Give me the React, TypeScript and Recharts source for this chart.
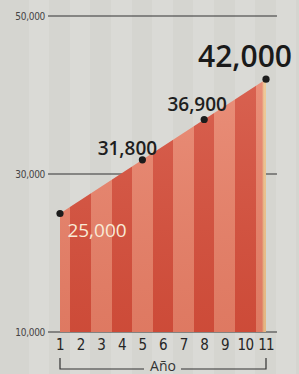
import React from 'react';
import { ComposedChart, Area, XAxis, YAxis, CartesianGrid, LabelList } from 'recharts';

// ---- data ----
const years = [1, 2, 3, 4, 5, 6, 7, 8, 9, 10, 11];
const pointYears = [1, 5, 8, 11];
const pointValues = [25000, 31800, 36900, 42000];
const pointLabels = ['25,000', '31,800', '36,900', '42,000'];
const yTicks = [10000, 30000, 50000];
const yTickLabels = ['10,000', '30,000', '50,000'];
const axisTitle = 'Año';

const data = pointYears.map((yr, i) => ({ year: yr, value: pointValues[i], label: pointLabels[i] }));

// ---- styles ----
const W = 299;
const H = 374;
const PAD_L = 12;
const PAD_R = 11;
const LIGHT = '#e7826a';
const DARK = '#d4503d';
const EDGE = '#ecc58e';
const labelStyles = [
  { dx: 37, dy: 23, size: 19, fill: '#f8ead6', weight: 500 },
  { dx: -15, dy: -5, size: 19, fill: '#1e1e1e', weight: 600 },
  { dx: -7, dy: -8, size: 19, fill: '#1e1e1e', weight: 600 },
  { dx: -21, dy: -12, size: 30, fill: '#1a1a1a', weight: 600 },
];

const n = years.length - 1;
const stops: { off: number; color: string }[] = [];
years.forEach((_, i) => {
  const a = Math.max(0, (i - 0.5) / n);
  const b = Math.min(1, (i + 0.5) / n);
  const c = i % 2 === 0 ? LIGHT : DARK;
  stops.push({ off: a, color: c });
  if (i === n) {
    stops.push({ off: 0.98, color: c });
    stops.push({ off: 0.99, color: EDGE });
    stops.push({ off: 1, color: EDGE });
  } else {
    stops.push({ off: b, color: c });
  }
});

const DataLabel = (props: any) => {
  const { x, y, index, value } = props;
  const s = labelStyles[index];
  return (
    <text
      x={x + s.dx}
      y={y + s.dy}
      textAnchor="middle"
      fontFamily="'Open Sans', sans-serif"
      fontSize={s.size}
      fontWeight={s.weight}
      fill={s.fill}
    >
      {value}
    </text>
  );
};

const BracketLabel = (props: any) => {
  const vb = props.viewBox || {};
  const x1 = vb.x + PAD_L;
  const x2 = vb.x + vb.width - PAD_R;
  const mid = (x1 + x2) / 2;
  const yTop = vb.y + 26;
  const yBot = vb.y + 37;
  return (
    <g>
      <path
        d={`M${x1},${yTop} L${x1},${yBot} L${mid - 19},${yBot} M${mid + 18},${yBot} L${x2},${yBot} L${x2},${yTop}`}
        stroke="#333"
        strokeWidth={1.2}
        fill="none"
      />
      <text
        x={mid}
        y={vb.y + 39}
        textAnchor="middle"
        fontFamily="'Open Sans', sans-serif"
        fontSize={14}
        fill="#333"
      >
        {axisTitle}
      </text>
    </g>
  );
};

export default function App() {
  return (
    <div
      style={{
        position: 'absolute',
        left: 0,
        top: 0,
        width: W,
        height: H,
        overflow: 'hidden',
        background:
          'repeating-linear-gradient(90deg, #d5d5d0 0px, #d5d5d0 20.6px, #dadad6 20.6px, #dadad6 41.2px)',
        backgroundPosition: '8px 0',
      }}
    >
      <ComposedChart
        width={W}
        height={H}
        data={data}
        margin={{ top: 16, right: 22, bottom: 0, left: 0 }}
      >
        <defs>
          <linearGradient id="stripes" x1="0" y1="0" x2="1" y2="0">
            {stops.map((s, i) => (
              <stop key={i} offset={s.off} stopColor={s.color} />
            ))}
          </linearGradient>
          <linearGradient id="shade" x1="0" y1="0" x2="0" y2="1">
            <stop offset="0" stopColor="#fff" stopOpacity={0.1} />
            <stop offset="1" stopColor="#7a1000" stopOpacity={0.08} />
          </linearGradient>
        </defs>
        <CartesianGrid vertical={false} stroke="#333" strokeWidth={1.2} />
        <XAxis
          type="number"
          dataKey="year"
          domain={[1, 11]}
          ticks={years}
          interval={0}
          padding={{ left: PAD_L, right: PAD_R }}
          axisLine={false}
          tickLine={false}
          tickSize={0}
          tickMargin={7}
          height={42}
          tick={{ fontFamily: "'DejaVu Sans Condensed', sans-serif", fontSize: 15, fill: '#262626', letterSpacing: -0.8 }}
          label={<BracketLabel />}
        />
        <YAxis
          type="number"
          domain={[10000, 50000]}
          ticks={yTicks}
          tickFormatter={(v: number) => yTickLabels[yTicks.indexOf(v)]}
          axisLine={false}
          tickLine={false}
          tickSize={0}
          tickMargin={3}
          width={48}
          tick={{ fontFamily: "'DejaVu Sans Condensed', sans-serif", fontSize: 10, fill: '#444', letterSpacing: -0.3 }}
        />
        <Area
          type="linear"
          dataKey="value"
          stroke="none"
          fill="url(#stripes)"
          fillOpacity={1}
          isAnimationActive={false}
          dot={false}
          activeDot={false}
        />
        <Area
          type="linear"
          dataKey="value"
          stroke="none"
          fill="url(#shade)"
          fillOpacity={1}
          isAnimationActive={false}
          dot={{ r: 3.6, fill: '#1c1c1c', stroke: 'none' }}
          activeDot={false}
        >
          <LabelList dataKey="label" content={<DataLabel />} />
        </Area>
      </ComposedChart>
    </div>
  );
}
